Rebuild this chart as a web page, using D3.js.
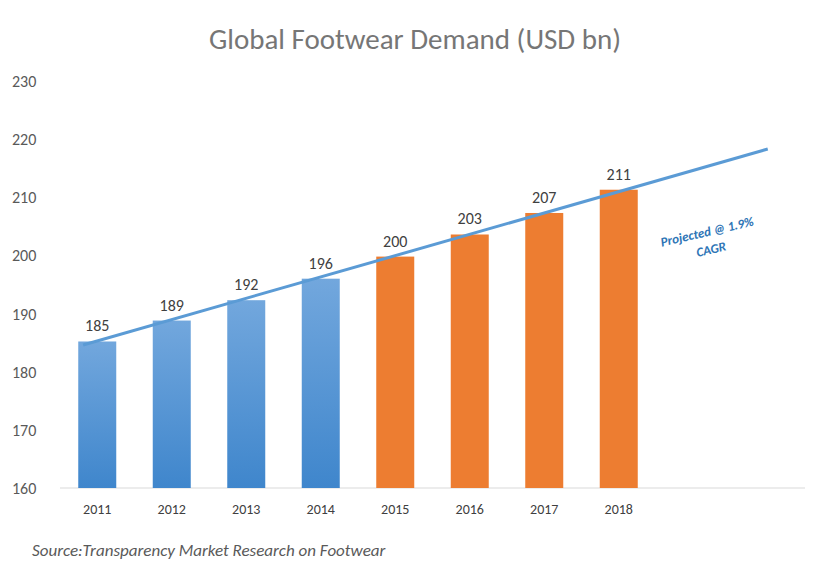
<!DOCTYPE html>
<html><head><meta charset="utf-8">
<script src="https://cdn.jsdelivr.net/npm/d3@7"></script>
<style>body{margin:0;background:#fff;font-family:Calibri,Carlito,"Open Sans",sans-serif;}</style>
</head><body><div id="chart"></div>
<script>
const years = ['2011','2012','2013','2014','2015','2016','2017','2018'];
const demand = [185.2, 188.8, 192.3, 196.0, 199.8, 203.6, 207.3, 211.3];
const labels = ['185','189','192','196','200','203','207','211'];
const projected = [false, false, false, false, true, true, true, true];
const yTicks = [160,170,180,190,200,210,220,230];
const trend = [{i: -0.19, v: 184.6}, {i: 9.0, v: 218.3}];

const W = 829, H = 577;
const svg = d3.select('#chart').append('svg').attr('width', W).attr('height', H);

const defs = svg.append('defs');
const grad = defs.append('linearGradient').attr('id', 'blueGrad')
  .attr('x1', 0).attr('y1', 0).attr('x2', 0).attr('y2', 1);
grad.append('stop').attr('offset', '0%').attr('stop-color', '#72a7dd');
grad.append('stop').attr('offset', '100%').attr('stop-color', '#3f86cc');

const x0 = 60, x1 = 805, bandW = (x1 - x0) / 10;
const y = d3.scaleLinear().domain([160, 230]).range([488, 81]);
const xi = d3.scaleLinear().domain([0, 1]).range([x0 + bandW / 2, x0 + bandW * 1.5]);

svg.append('text').attr('x', 415).attr('y', 49).attr('text-anchor', 'middle')
  .attr('font-size', 29).attr('fill', '#767676').text('Global Footwear Demand (USD bn)');

// y axis labels
svg.selectAll('.yt').data(yTicks).enter().append('text')
  .attr('x', 12).attr('y', d => y(d) + 6).attr('font-size', 16).attr('fill', '#595959')
  .text(d => d);

// baseline
svg.append('line').attr('x1', x0).attr('x2', x1).attr('y1', y(160)).attr('y2', y(160))
  .attr('stroke', '#d9d9d9').attr('stroke-width', 1);

const barW = 38;
svg.selectAll('.bar').data(demand).enter().append('rect')
  .attr('x', (d, i) => xi(i) - barW / 2).attr('width', barW)
  .attr('y', d => y(d)).attr('height', d => y(160) - y(d))
  .attr('fill', (d, i) => projected[i] ? '#ed7d31' : 'url(#blueGrad)');

svg.selectAll('.vl').data(demand).enter().append('text')
  .attr('x', (d, i) => xi(i)).attr('y', d => y(d) - 10).attr('text-anchor', 'middle')
  .attr('font-size', 16).attr('fill', '#404040').text((d, i) => labels[i]);

svg.selectAll('.xl').data(years).enter().append('text')
  .attr('x', (d, i) => xi(i)).attr('y', 514).attr('text-anchor', 'middle')
  .attr('font-size', 14).attr('fill', '#404040').text(d => d);

const line = d3.line().x(d => xi(d.i)).y(d => y(d.v));
svg.append('path').datum(trend).attr('d', line).attr('fill', 'none')
  .attr('stroke', '#5b9bd5').attr('stroke-width', 3);

const ann = svg.append('g').attr('transform', 'translate(708,236) rotate(-13)');
ann.append('text').attr('text-anchor', 'middle').attr('font-size', 13).attr('font-weight', 'bold')
  .attr('font-style', 'italic').attr('fill', '#2e75b6').text('Projected @ 1.9%');
ann.append('text').attr('y', 18).attr('text-anchor', 'middle').attr('font-size', 13).attr('font-weight', 'bold')
  .attr('font-style', 'italic').attr('fill', '#2e75b6').text('CAGR');

svg.append('text').attr('x', 32).attr('y', 556).attr('font-size', 17).attr('font-style', 'italic')
  .attr('fill', '#595959').text('Source:Transparency Market Research on Footwear');
</script></body></html>
